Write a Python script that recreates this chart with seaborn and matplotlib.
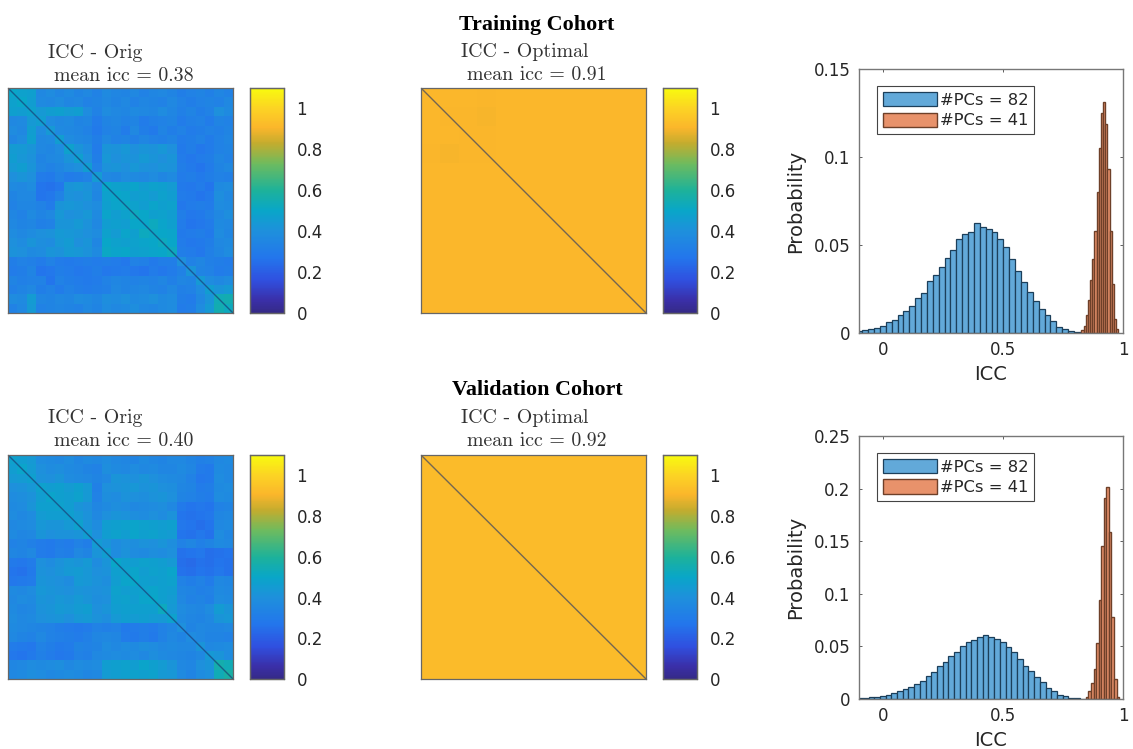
"""ICC matrices and ICC histograms for the training and validation cohorts."""

import matplotlib
matplotlib.use("Agg")
import matplotlib.pyplot as plt
import numpy as np
import seaborn as sns
from matplotlib.colors import LinearSegmentedColormap

W, H = 1133, 749

# ICC matrices on a coarse grid (percent)
TRAIN_ORIG = [
    [50, 48, 47, 36, 38, 35, 37, 34, 36, 33, 37, 35, 34, 36, 33, 35, 36, 34, 31, 33, 34, 32, 35, 33],
    [48, 50, 46, 37, 36, 38, 35, 36, 33, 34, 36, 34, 36, 33, 35, 34, 33, 36, 33, 31, 33, 34, 33, 36],
    [47, 46, 48, 44, 46, 47, 45, 46, 38, 33, 38, 36, 35, 37, 36, 35, 38, 35, 32, 34, 31, 33, 40, 37],
    [36, 37, 44, 46, 38, 36, 37, 34, 35, 30, 34, 35, 33, 34, 30, 32, 33, 34, 30, 32, 33, 30, 34, 33],
    [38, 36, 46, 38, 44, 37, 36, 35, 33, 29, 33, 34, 30, 36, 31, 29, 34, 31, 33, 30, 31, 33, 32, 34],
    [35, 38, 47, 36, 37, 46, 38, 36, 35, 31, 36, 33, 34, 32, 35, 33, 32, 34, 30, 31, 33, 30, 33, 35],
    [45, 44, 42, 36, 35, 38, 48, 42, 38, 30, 42, 41, 43, 40, 42, 41, 43, 40, 29, 31, 28, 30, 33, 34],
    [46, 43, 41, 34, 36, 37, 42, 47, 40, 31, 43, 40, 42, 41, 44, 42, 40, 42, 30, 28, 30, 31, 35, 33],
    [44, 46, 42, 35, 33, 35, 38, 40, 46, 33, 41, 42, 40, 43, 41, 40, 42, 41, 31, 29, 27, 30, 34, 36],
    [40, 42, 40, 30, 29, 33, 30, 31, 33, 45, 36, 35, 38, 37, 36, 38, 35, 37, 30, 31, 29, 31, 33, 32],
    [37, 36, 38, 27, 26, 28, 42, 43, 41, 36, 50, 48, 47, 49, 46, 48, 47, 45, 29, 28, 30, 27, 37, 38],
    [34, 36, 36, 27, 28, 33, 41, 40, 42, 35, 48, 50, 49, 46, 47, 45, 48, 46, 30, 29, 27, 29, 39, 36],
    [33, 35, 35, 33, 30, 42, 43, 42, 40, 38, 47, 49, 51, 48, 46, 49, 47, 48, 28, 30, 31, 30, 38, 37],
    [35, 33, 37, 34, 36, 43, 40, 41, 43, 37, 49, 46, 48, 52, 50, 47, 48, 46, 31, 28, 29, 32, 36, 39],
    [36, 34, 35, 32, 33, 42, 42, 44, 41, 36, 46, 47, 46, 50, 50, 52, 49, 47, 30, 27, 28, 30, 37, 36],
    [38, 36, 38, 40, 41, 44, 43, 42, 40, 38, 48, 45, 49, 47, 52, 51, 50, 49, 29, 30, 31, 29, 38, 35],
    [40, 38, 42, 39, 38, 43, 45, 40, 42, 35, 50, 48, 47, 48, 49, 50, 52, 50, 30, 28, 29, 31, 36, 37],
    [41, 40, 37, 38, 42, 41, 44, 43, 41, 37, 51, 49, 50, 47, 48, 49, 50, 52, 31, 30, 28, 32, 35, 38],
    [31, 33, 32, 30, 33, 30, 29, 30, 31, 30, 31, 30, 28, 33, 32, 29, 31, 31, 40, 33, 35, 32, 31, 30],
    [30, 31, 34, 27, 28, 31, 30, 28, 29, 31, 28, 29, 30, 28, 27, 30, 28, 30, 33, 42, 34, 33, 30, 31],
    [34, 32, 33, 33, 27, 33, 31, 30, 29, 30, 33, 35, 34, 33, 34, 33, 35, 32, 35, 34, 44, 38, 36, 38],
    [32, 34, 36, 31, 33, 30, 33, 31, 30, 31, 32, 36, 34, 35, 36, 34, 33, 36, 32, 33, 38, 46, 42, 44],
    [38, 37, 45, 35, 34, 36, 35, 38, 37, 35, 39, 38, 40, 37, 38, 40, 37, 38, 31, 30, 36, 42, 54, 55],
    [33, 36, 44, 33, 34, 35, 34, 33, 36, 34, 38, 36, 37, 39, 36, 35, 37, 38, 30, 31, 38, 44, 55, 52],
]
VALID_ORIG = [
    [48, 46, 44, 38, 37, 36, 38, 35, 37, 36, 38, 36, 35, 34, 37, 35, 34, 36, 36, 34, 32, 33, 36, 37],
    [46, 49, 45, 40, 38, 39, 37, 36, 34, 33, 39, 37, 36, 38, 36, 37, 35, 35, 37, 35, 30, 29, 37, 36],
    [44, 45, 47, 41, 40, 42, 38, 37, 36, 34, 36, 42, 41, 40, 42, 40, 38, 37, 36, 33, 28, 29, 38, 36],
    [40, 41, 43, 48, 46, 47, 45, 47, 44, 32, 40, 41, 42, 43, 41, 42, 40, 39, 35, 34, 30, 31, 37, 38],
    [38, 39, 41, 46, 49, 47, 46, 48, 44, 33, 39, 38, 41, 40, 39, 41, 42, 40, 34, 33, 31, 30, 38, 37],
    [37, 38, 42, 47, 47, 48, 46, 42, 40, 35, 37, 39, 38, 36, 37, 38, 39, 36, 29, 27, 28, 27, 33, 34],
    [38, 36, 38, 45, 46, 46, 47, 44, 41, 36, 40, 42, 41, 39, 38, 40, 38, 41, 27, 26, 27, 28, 35, 36],
    [36, 37, 38, 43, 42, 42, 44, 48, 42, 38, 46, 47, 48, 49, 48, 47, 46, 47, 28, 27, 25, 27, 36, 37],
    [37, 35, 36, 42, 40, 41, 41, 42, 46, 40, 46, 48, 46, 49, 47, 48, 46, 45, 27, 26, 28, 26, 38, 35],
    [33, 34, 32, 30, 29, 31, 30, 33, 31, 45, 42, 38, 40, 39, 41, 40, 42, 39, 33, 35, 32, 34, 37, 36],
    [35, 34, 36, 30, 29, 32, 31, 36, 34, 42, 46, 38, 41, 38, 37, 39, 38, 40, 26, 27, 28, 25, 26, 27],
    [29, 28, 30, 40, 38, 41, 43, 42, 44, 38, 42, 50, 47, 46, 48, 47, 46, 44, 25, 24, 26, 25, 27, 26],
    [27, 26, 29, 41, 40, 42, 44, 45, 43, 40, 41, 47, 48, 49, 46, 48, 47, 49, 26, 25, 27, 26, 28, 26],
    [28, 29, 30, 42, 41, 40, 38, 44, 43, 41, 39, 46, 49, 50, 47, 46, 47, 48, 33, 31, 33, 30, 36, 35],
    [37, 36, 38, 43, 42, 41, 40, 42, 41, 40, 41, 48, 46, 47, 48, 49, 47, 46, 35, 34, 32, 33, 37, 36],
    [36, 38, 37, 42, 41, 43, 42, 44, 42, 39, 40, 47, 48, 46, 49, 50, 47, 45, 36, 33, 34, 32, 38, 37],
    [37, 35, 36, 41, 42, 44, 43, 45, 46, 40, 42, 46, 47, 47, 47, 47, 52, 44, 38, 36, 35, 38, 45, 42],
    [38, 36, 37, 40, 41, 42, 40, 43, 44, 41, 39, 44, 46, 45, 46, 45, 44, 48, 37, 35, 34, 36, 42, 43],
    [37, 36, 35, 34, 33, 31, 30, 29, 30, 33, 32, 33, 29, 30, 31, 30, 33, 35, 40, 34, 36, 35, 35, 36],
    [36, 34, 33, 36, 33, 32, 31, 30, 32, 35, 36, 35, 30, 29, 31, 29, 33, 36, 34, 38, 36, 34, 34, 33],
    [30, 29, 28, 33, 31, 29, 30, 34, 33, 34, 38, 36, 38, 37, 39, 38, 36, 37, 36, 36, 42, 36, 37, 38],
    [28, 27, 29, 32, 30, 28, 29, 33, 32, 36, 37, 38, 37, 38, 36, 39, 37, 36, 35, 34, 36, 44, 42, 38],
    [35, 36, 38, 37, 38, 39, 36, 38, 37, 38, 46, 47, 48, 46, 49, 47, 45, 42, 36, 35, 40, 42, 56, 54],
    [36, 37, 39, 38, 36, 37, 38, 37, 35, 36, 45, 46, 47, 48, 47, 48, 44, 43, 37, 34, 38, 40, 54, 58],
]
TRAIN_OPT = [
    [91.0, 91.0, 91.0, 90.5, 91.0, 91.0, 91.0, 91.0, 91.0, 91.0, 91.0, 91.0],
    [91.0, 90.5, 90.5, 90.0, 91.0, 91.0, 91.0, 91.0, 91.0, 90.7, 91.0, 91.0],
    [91.0, 91.0, 90.5, 90.5, 91.0, 91.0, 91.0, 91.0, 91.0, 91.0, 91.0, 91.0],
    [90.5, 90.0, 90.5, 90.5, 91.0, 91.0, 90.7, 90.7, 90.7, 91.0, 90.7, 91.0],
    [91.0, 91.0, 91.0, 91.0, 91.0, 91.0, 91.0, 91.0, 91.0, 91.0, 91.0, 91.0],
    [91.0, 91.0, 91.0, 90.7, 91.0, 91.0, 91.0, 91.0, 90.7, 91.0, 91.0, 91.0],
    [91.0, 90.7, 91.0, 91.0, 91.0, 91.0, 91.0, 90.7, 91.0, 91.0, 91.0, 91.0],
    [91.0, 91.0, 91.0, 90.7, 91.0, 91.0, 91.0, 91.0, 91.0, 90.7, 91.0, 91.0],
    [91.0, 91.0, 91.0, 91.0, 91.0, 91.0, 91.0, 91.0, 90.7, 91.0, 91.0, 91.0],
    [91.0, 91.0, 91.0, 91.0, 91.0, 91.0, 91.0, 91.0, 91.0, 91.0, 91.0, 91.0],
    [91.0, 90.7, 91.0, 91.0, 91.0, 91.0, 91.0, 91.0, 91.0, 91.0, 91.0, 91.0],
    [91.0, 91.0, 91.0, 91.0, 91.0, 91.0, 91.0, 91.0, 91.0, 91.0, 91.0, 91.0],
]
VALID_OPT = [
    [92, 92, 92, 92, 92, 92],
    [92, 92, 92, 92, 92, 92],
    [92, 92, 92, 92, 92, 92],
    [92, 92, 92, 92, 92, 92],
    [92, 92, 92, 92, 92, 92],
    [92, 92, 92, 92, 92, 92],
]

# histograms: left edge of the first bin, bin width, bar heights
TRAIN_BLUE_START, TRAIN_BLUE_WIDTH = -0.111, 0.0245
TRAIN_BLUE = [.001, .0015, .0023, .003, .0042, .0064, .0075, .0102, .0125, .0155, .0198, .0228, .0296,
              .0332, .0377, .0428, .047, .0532, .0562, .0575, .0625, .0602, .059, .0572, .0536, .049,
              .0423, .0355, .029, .0232, .0183, .0138, .0102, .0066, .0036, .002, .001, .0005, .0003]
TRAIN_ORANGE_START, TRAIN_ORANGE_WIDTH = 0.827, 0.009
TRAIN_ORANGE = [.0015, .004, .0105, .019, .03, .042, .058, .08, .105, .125, .131, .119, .093, .058,
                .028, .008, .002]

VALID_BLUE_START, VALID_BLUE_WIDTH = -0.108, 0.0238
VALID_BLUE = [.001, .0013, .0016, .0019, .0028, .0041, .0054, .0073, .0095, .0117, .0142, .0171, .0215,
              .026, .031, .0348, .0408, .0443, .0503, .0544, .0563, .0585, .0608, .0585, .0573, .0541,
              .0497, .0443, .038, .0316, .0266, .0206, .0161, .0104, .0076, .0041, .0025, .0012, .0008,
              .0004, .0002]
VALID_ORANGE_START, VALID_ORANGE_WIDTH = 0.845, 0.0107
VALID_ORANGE = [.002, .008, .015, .0286, .053, .0937, .145, .191, .2015, .159, .0778, .019, .002]

CBAR_TICKS = [0, 0.2, 0.4, 0.6, 0.8, 1]
CBAR_LABELS = ["0", "0.2", "0.4", "0.6", "0.8", "1"]
HIST_XTICKS = [0, 0.5, 1]
HIST_XLABELS = ["0", "0.5", "1"]
TRAIN_YTICKS = [0, 0.05, 0.1, 0.15]
TRAIN_YLABELS = ["0", "0.05", "0.1", "0.15"]
VALID_YTICKS = [0, 0.05, 0.1, 0.15, 0.2, 0.25]
VALID_YLABELS = ["0", "0.05", "0.1", "0.15", "0.2", "0.25"]

# colours sampled off the reference colour bar
PARULA = LinearSegmentedColormap.from_list("parula", [
    (0.0, "#352A87"), (0.055, "#3A2FA8"), (0.145, "#3050E0"), (0.245, "#2376EC"),
    (0.364, "#1E90DC"), (0.455, "#09A6C8"), (0.545, "#1DB29A"), (0.664, "#6EBB5E"),
    (0.755, "#C4AC2E"), (0.825, "#FBB62B"), (0.91, "#FCD324"), (1.0, "#F8FA0E")])

TEXT = "#262626"
FRAME = "#666666"

sns.set_theme(style="white")
plt.rcParams["font.family"] = ["DejaVu Sans"]
plt.rcParams["text.color"] = TEXT


def add_axes(fig, left, top, right, bottom):
    return fig.add_axes([left / W, 1 - bottom / H, (right - left) / W, (bottom - top) / H])


def put_text(fig, x, y, s, **kw):
    fig.text(x / W, 1 - y / H, s, va="baseline", **kw)


def draw_matrix(fig, values, box, cbar_x, line1, line2, text_x, text_y):
    left, top, right, bottom = box
    ax = add_axes(fig, left, top, right, bottom)
    cax = add_axes(fig, cbar_x, top, cbar_x + 34, bottom)
    grid = np.array(values) / 100
    sns.heatmap(grid, ax=ax, cbar_ax=cax, cmap=PARULA, vmin=0, vmax=1.1, square=False,
                xticklabels=False, yticklabels=False)
    n = grid.shape[0]
    # dark main diagonal
    ax.plot([0, n], [0, n], color="#1a2f6a", alpha=0.6, lw=1.0, solid_capstyle="butt")
    ax.set_xticks(np.linspace(0, n, 7)[1:-1])
    ax.set_yticks(np.linspace(0, n, 7)[1:-1])
    ax.tick_params(direction="in", length=2, width=0.6, color="#444444", top=True, right=True,
                   bottom=True, left=True, labelbottom=False, labelleft=False)
    for sp in ax.spines.values():
        sp.set_visible(True)
        sp.set_color(FRAME)
        sp.set_linewidth(0.9)
    cax.set_yticks(CBAR_TICKS)
    cax.set_yticklabels(CBAR_LABELS, fontsize=12, color=TEXT)
    cax.tick_params(direction="in", length=2, width=0.6, color="#444444", right=True, left=False, pad=9)
    for sp in cax.spines.values():
        sp.set_visible(True)
        sp.set_color(FRAME)
        sp.set_linewidth(0.9)
    put_text(fig, text_x, text_y, line1, family="cmr10", fontsize=14.3, color="#333333")
    put_text(fig, text_x + 6, text_y + 23, line2, family="cmr10", fontsize=14.3, color="#333333")


def draw_hist(fig, box, blue, orange, ylim, yticks, ylabels):
    ax = add_axes(fig, *box)
    styles = (("#62A9D9", "#1c3f5a", 0.9, "#PCs = 82"), ("#E8926B", "#6e4029", 1.0, "#PCs = 41"))
    for (start, width, heights), (color, edge, lw, label) in zip((blue, orange), styles):
        edges = start + width * np.arange(len(heights) + 1)
        centers = (edges[:-1] + edges[1:]) / 2
        sns.histplot(x=centers, weights=heights, bins=edges.tolist(), ax=ax, color=color, alpha=1,
                     edgecolor=edge, linewidth=lw, label=label)
    ax.set_xlim(-0.1, 1)
    ax.set_ylim(*ylim)
    ax.set_xticks(HIST_XTICKS)
    ax.set_xticklabels(HIST_XLABELS, fontsize=12, color=TEXT)
    ax.set_yticks(yticks)
    ax.set_yticklabels(ylabels, fontsize=12, color=TEXT)
    ax.tick_params(direction="in", length=2.5, width=0.6, color="#444444", top=True, right=True,
                   bottom=True, left=True, pad=6)
    ax.set_xlabel("ICC", fontsize=14, color=TEXT, labelpad=4)
    ax.set_ylabel("Probability", fontsize=14, color=TEXT, labelpad=6)
    for sp in ax.spines.values():
        sp.set_color("#777777")
        sp.set_linewidth(1.0)
    leg = ax.legend(loc="upper left", bbox_to_anchor=(0.068, 0.935), fontsize=11.8, fancybox=False,
                    framealpha=1, edgecolor="#444444", handlelength=3.3, handleheight=0.95,
                    labelspacing=0.3, borderpad=0.35, handletextpad=0.2, borderaxespad=0)
    leg.get_frame().set_linewidth(0.8)
    return ax


fig = plt.figure(figsize=(W / 100, H / 100), dpi=100)

draw_matrix(fig, TRAIN_ORIG, (8, 88, 233, 313), 250, "ICC - Orig", "mean icc = 0.38", 48, 58)
draw_matrix(fig, TRAIN_OPT, (421, 88, 646, 313), 663, "ICC - Optimal", "mean icc = 0.91", 461, 57)
draw_matrix(fig, VALID_ORIG, (8, 455, 233, 679), 250, "ICC - Orig", "mean icc = 0.40", 48, 423)
draw_matrix(fig, VALID_OPT, (421, 455, 646, 679), 663, "ICC - Optimal", "mean icc = 0.92", 461, 423)

put_text(fig, 537, 30, "Training Cohort", ha="center", family="Liberation Serif", weight="bold",
         fontsize=15.8, color="black")
put_text(fig, 537, 395, "Validation Cohort", ha="center", family="Liberation Serif", weight="bold",
         fontsize=15.8, color="black")

draw_hist(fig, (859, 69, 1123, 333),
          (TRAIN_BLUE_START, TRAIN_BLUE_WIDTH, TRAIN_BLUE),
          (TRAIN_ORANGE_START, TRAIN_ORANGE_WIDTH, TRAIN_ORANGE),
          (0, 0.15), TRAIN_YTICKS, TRAIN_YLABELS)
draw_hist(fig, (859, 436, 1123, 699),
          (VALID_BLUE_START, VALID_BLUE_WIDTH, VALID_BLUE),
          (VALID_ORANGE_START, VALID_ORANGE_WIDTH, VALID_ORANGE),
          (0, 0.25), VALID_YTICKS, VALID_YLABELS)

fig.savefig("out.png", dpi=100)
